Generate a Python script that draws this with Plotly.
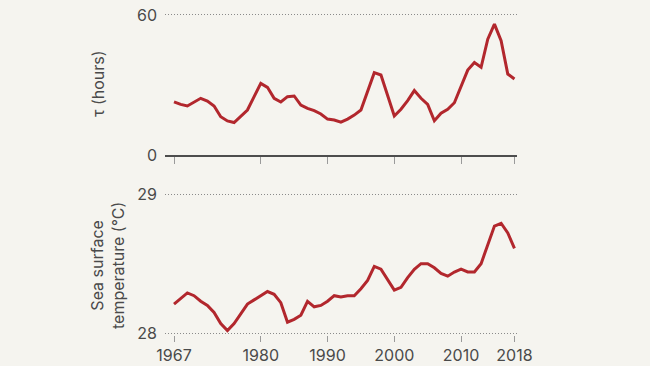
import plotly.graph_objects as go

years = list(range(1967, 2019))
tau_hours = [22.8, 21.7, 21.0, 22.6, 24.3, 23.1, 21.0, 16.4, 14.6, 13.9, 16.4, 19.3, 25.0,
             30.7, 29.0, 24.3, 22.7, 25.0, 25.3, 21.4, 20.0, 19.0, 17.6, 15.4, 15.0, 14.1,
             15.4, 17.1, 19.3, 27.1, 35.3, 34.3, 25.0, 16.7, 19.6, 23.3, 27.6, 24.3, 21.7,
             14.7, 17.9, 19.6, 22.4, 29.6, 36.4, 39.6, 37.6, 49.6, 56.1, 49.0, 34.7, 32.6]
sst = [28.21, 28.25, 28.29, 28.27, 28.23, 28.20, 28.15, 28.07, 28.02, 28.07, 28.14, 28.21,
       28.24, 28.27, 28.30, 28.28, 28.22, 28.08, 28.10, 28.13, 28.23, 28.19, 28.20, 28.23,
       28.27, 28.26, 28.27, 28.27, 28.32, 28.38, 28.48, 28.46, 28.38, 28.31, 28.33, 28.40,
       28.46, 28.50, 28.50, 28.47, 28.43, 28.41, 28.44, 28.46, 28.44, 28.44, 28.50, 28.63,
       28.77, 28.79, 28.72, 28.61]
x_ticks = [1967, 1980, 1990, 2000, 2010, 2018]
tau_ticks = [0, 60]
sst_ticks = [28, 29]

RED = "#B2272D"
BG = "#F5F4EF"
TXT = "#4a4a4a"
FONT = "Inter"

H = 366
fig = go.Figure()
fig.add_trace(go.Scatter(x=years, y=tau_hours, mode="lines", xaxis="x", yaxis="y",
                         line=dict(color=RED, width=3), hoverinfo="skip"))
fig.add_trace(go.Scatter(x=years, y=sst, mode="lines", xaxis="x2", yaxis="y2",
                         line=dict(color=RED, width=3), hoverinfo="skip"))

xr = [1965.65, 2018.38]
top_lo, top_hi = 0, 61
top_dom = [(H - 155) / H, (H - (155 - 61 * 140 / 60)) / H]
b_lo, b_hi = 27.99, 29.05
ppu = 139.3
bot_dom = [(H - (333.3 + (28 - b_lo) * ppu)) / H, (H - (194 - (b_hi - 29) * ppu)) / H]

grid = dict(showgrid=True, gridcolor="#8a8a8a", gridwidth=1, griddash="1px,2px",
            zeroline=False, showline=False, ticks="", automargin=False,
            tickfont=dict(family=FONT, size=16, color=TXT), ticklabelstandoff=7)

fig.update_layout(
    width=650, height=366,
    margin=dict(l=165, r=133, t=0, b=0, autoexpand=False),
    paper_bgcolor=BG, plot_bgcolor=BG,
    showlegend=False,
    font=dict(family=FONT, size=16, color=TXT),
    xaxis=dict(domain=[0, 1], range=xr, anchor="y", tickvals=x_ticks, automargin=False,
               showticklabels=False, showgrid=False, zeroline=False,
               showline=True, linecolor="#4d4d4d", linewidth=2,
               ticks="outside", ticklen=7, tickwidth=1, tickcolor="#9a9a9a"),
    yaxis=dict(domain=top_dom, range=[top_lo, top_hi], tickvals=tau_ticks, **grid),
    xaxis2=dict(domain=[0, 1], range=xr, anchor="y2", tickvals=x_ticks, automargin=False,
                ticktext=[str(v) for v in x_ticks], showgrid=False, zeroline=False,
                showline=False, ticks="outside", ticklen=6, tickwidth=1, tickcolor="#9a9a9a",
                tickfont=dict(family=FONT, size=16, color=TXT)),
    yaxis2=dict(domain=bot_dom, range=[b_lo, b_hi], tickvals=sst_ticks, **grid),
    annotations=[
        dict(text="τ (hours)", xref="paper", yref="paper", x=(98 - 165) / 352,
             y=(H - 84) / H, textangle=-90, showarrow=False, xanchor="center",
             yanchor="middle", font=dict(family=FONT, size=16, color=TXT)),
        dict(text="Sea surface<br>temperature (°C)", xref="paper", yref="paper",
             x=(108 - 165) / 352, y=(H - 266) / H, textangle=-90, showarrow=False,
             xanchor="center", yanchor="middle", align="center",
             font=dict(family=FONT, size=16, color=TXT)),
    ],
)

page_fix = "document.body.style.margin='0';document.body.style.background='%s';" % BG
fig.write_html("out.html", post_script=page_fix,
               config={"displayModeBar": False, "staticPlot": True})
